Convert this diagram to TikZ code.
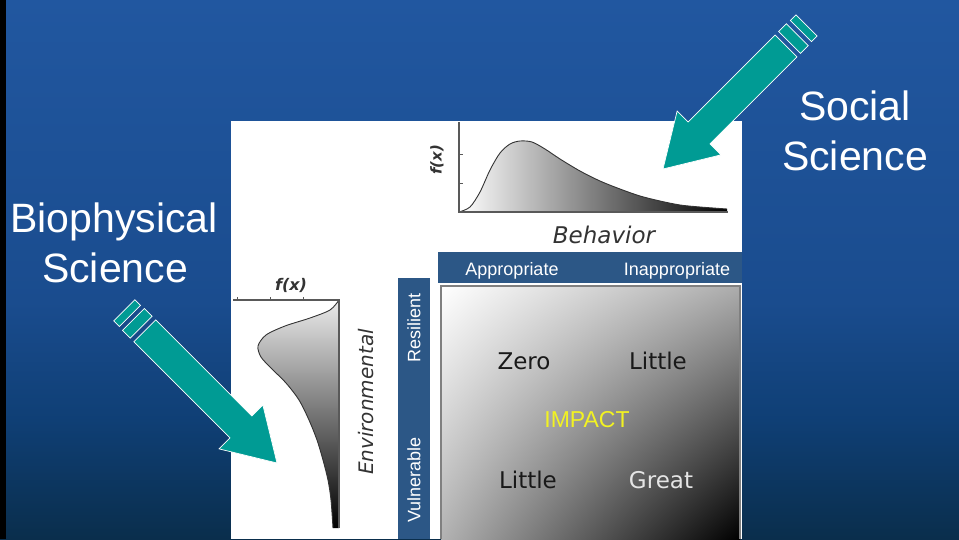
\documentclass[tikz,border=0pt]{standalone}
\usepackage{fontspec}
\setmainfont{Liberation Sans}
\newfontfamily\chartfont{DejaVu Sans}
\usetikzlibrary{positioning,shadings}

\definecolor{slidetop}{HTML}{2157A0}
\definecolor{slidemid}{HTML}{1A4C8E}
\definecolor{slidelow}{HTML}{0F3F75}
\definecolor{slidebot}{HTML}{0A2E4C}
\definecolor{arrowteal}{HTML}{009B94}
\definecolor{barblue}{HTML}{2C5786}
\definecolor{impactyellow}{HTML}{F2F222}
\definecolor{inkgray}{HTML}{333333}

\pgfdeclareverticalshading{slidebg}{100bp}{color(0bp)=(slidebot); color(25bp)=(slidebot);
    color(36bp)=(slidelow); color(47bp)=(slidemid); color(75bp)=(slidetop); color(100bp)=(slidetop)}

\tikzset{
    bigtext/.style={text=white, font=\fontsize{41}{50}\selectfont, inner sep=0pt},
    bartext/.style={text=white, font=\fontsize{18}{20}\selectfont, inner sep=0pt},
    celltext/.style={font=\chartfont\fontsize{23}{26}\selectfont, inner sep=0pt},
    charttext/.style={text=inkgray, font=\chartfont\itshape, inner sep=0pt},
    axisline/.style={draw=gray!70!black, line width=1.5pt},
    curveline/.style={draw=inkgray, line width=0.9pt},
    arrowbody/.style={fill=arrowteal, draw=white, line width=0.7pt},
    pics/stripearrow/.style={code={
        \draw[arrowbody] (0,0) -- (51,31) -- (51,15.5) -- (#1,15.5)
            -- (#1,-15.5) -- (51,-15.5) -- (51,-31) -- cycle;
        \draw[arrowbody] ({#1+5},15.5) rectangle ({#1+16},-15.5);
        \draw[arrowbody] ({#1+21},15) rectangle ({#1+29},-15);
    }}
}

\begin{document}
\begin{tikzpicture}[x=1pt,y=-1pt]
    \useasboundingbox (0,0) rectangle (959,539);
    %Background
    \shade[shading=slidebg] (0,0) rectangle (959,539);
    \fill[black] (0,0) rectangle (6,539);
    \fill[white] (231,121) rectangle (742,539);

    %Behavior curve
    \shade[left color=white, right color=black] (459,212)
        plot[smooth] coordinates {(459,212) (470,207) (480,192) (490,170) (500,153) (510,144)
            (520,141) (532,142) (545,149) (560,159) (580,171) (600,181) (620,189)
            (640,196) (660,201) (680,205) (700,207) (727,209)} -- (727,212) -- cycle;
    \draw[curveline] plot[smooth] coordinates {(459,212) (470,207) (480,192) (490,170) (500,153) (510,144)
            (520,141) (532,142) (545,149) (560,159) (580,171) (600,181) (620,189)
            (640,196) (660,201) (680,205) (700,207) (727,209)};
    \draw[axisline] (459,122) -- (459,212) -- (728,212);
    \draw[axisline, line width=1pt] (459,154) -- (463,154) (459,183) -- (463,183);
    \node (fxtop) [charttext, rotate=90, font=\chartfont\itshape\bfseries\fontsize{15}{16}\selectfont] at (437,160) {f(x)};
    \node (behavior) [charttext, anchor=base, font=\chartfont\itshape\fontsize{23}{26}\selectfont] at (604,243) {Behavior};

    %Environmental curve
    \shade[top color=white!92!black, bottom color=black] (339,300)
        plot[smooth] coordinates {(339,300) (330,310) (310,318) (285,326) (266,335) (258,346)
            (261,357) (271,368) (286,383) (299,400) (309,420) (317,440) (323,460)
            (328,480) (331,500) (333,528)} -- (339,528) -- cycle;
    \draw[curveline] plot[smooth] coordinates {(339,300) (330,310) (310,318) (285,326) (266,335) (258,346)
            (261,357) (271,368) (286,383) (299,400) (309,420) (317,440) (323,460)
            (328,480) (331,500) (333,528)};
    \draw[axisline] (233,300) -- (339,300) -- (339,528);
    \draw[axisline, line width=1pt] (237,300) -- (237,297) (270,300) -- (270,297) (303,300) -- (303,297);
    \node (fxleft) [charttext, font=\chartfont\itshape\bfseries\fontsize{16}{18}\selectfont] at (291,285) {f(x)};
    \node (environ) [charttext, rotate=90, font=\chartfont\itshape\fontsize{20}{22}\selectfont] at (366,402) {Environmental};

    %Bars
    \node (topbar) [fill=barblue, minimum width=304pt, minimum height=31pt, anchor=north west, inner sep=0pt] at (438,252) {};
    \node (sidebar) [fill=barblue, minimum width=32pt, minimum height=261pt, anchor=north west, inner sep=0pt] at (398,278) {};
    \node (approp) [bartext, anchor=base] at (512,275) {Appropriate};
    \node (inapprop) [bartext, anchor=base] at (677,275) {Inappropriate};
    \node (resilient) [bartext, rotate=90] at (414,328) {Resilient};
    \node (vulnerable) [bartext, rotate=90] at (414,480) {Vulnerable};

    %Impact matrix
    \shade[upper left=white, upper right=gray!65, lower left=gray!60, lower right=black] (441,286) rectangle (740,539);
    \draw[gray, line width=1.5pt] (441,539) -- (441,286) -- (740,286) -- (740,539);
    \node (zero) [celltext, anchor=base, text=black!90] at (524,369) {Zero};
    \node (littletop) [celltext, anchor=base, text=black!90] at (658,369) {Little};
    \node (impact) [anchor=base, text=impactyellow, inner sep=0pt, font=\fontsize{23}{26}\selectfont] at (587,427) {IMPACT};
    \node (littlebot) [celltext, anchor=base, text=black!90] at (528,488) {Little};
    \node (great) [celltext, anchor=base, text=white!90!black] at (661,488) {Great};

    %Labels
    \node (social) [bigtext, anchor=base] at (855,120) {Social};
    \node (socsci) [bigtext, anchor=base] at (855,170) {Science};
    \node (bio) [bigtext, anchor=base] at (114,232) {Biophysical};
    \node (biosci) [bigtext, anchor=base] at (115,282) {Science};

    %Arrows
    \pic[rotate=45] at (663,169) {stripearrow=174};
    \pic[rotate=135] at (277,463) {stripearrow=187};
\end{tikzpicture}
\end{document}
